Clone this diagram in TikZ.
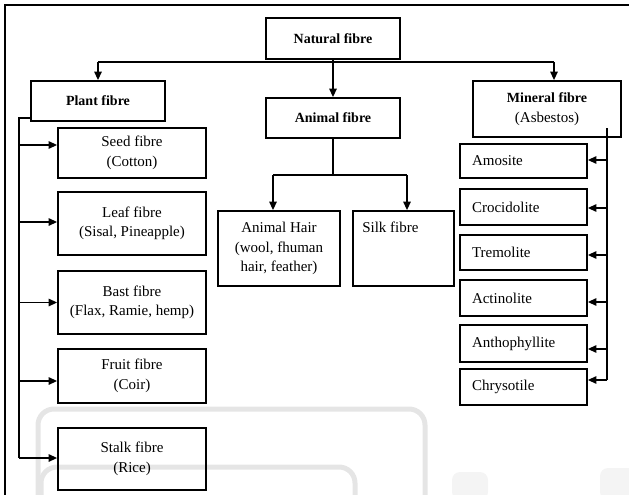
\documentclass[tikz,border=0pt]{standalone}
\usepackage{fontspec}
\setmainfont{Liberation Serif}
\usetikzlibrary{arrows.meta,calc}
\newcommand{\nf}{\fontsize{15}{19.5}\selectfont}
\newcommand{\bfnt}{\fontsize{14}{19.5}\selectfont\bfseries}
\begin{document}
\begin{tikzpicture}[x=1pt,y=-1pt,
  box/.style={draw,line width=1.8pt,inner sep=0pt,align=center,font=\nf},
  bbox/.style={box,font=\bfnt},
  lbox/.style={box,align=left,text width=103pt,inner xsep=12pt,minimum width=127pt},
  conn/.style={line width=1.3pt},
  arr/.style={conn,-{Triangle[length=8.5pt,width=7.5pt]}},
  wm/.style={gray!20,line width=5pt,rounded corners=16pt},
  frame/.style={line width=2pt}]
\useasboundingbox (0,0) rectangle (629,495);
% watermark
\draw[wm] (38,505) -- (38,409) -- (425,409) -- (425,505);
\draw[wm] (41,505) -- (41,467) -- (355,467) -- (355,505);
\fill[gray!9,rounded corners=8pt] (452,472) rectangle (488,500);
\fill[gray!9,rounded corners=8pt] (600,468) rectangle (640,500);
% outer frame
\draw[frame] (5,495) -- (5,5) -- (629,5);
% top level
\node[bbox,minimum width=134pt,minimum height=41pt] (nat) at (333,38.5) {Natural fibre};
\node[bbox,minimum width=134pt,minimum height=40pt] (plant) at (98,101) {Plant fibre};
\node[bbox,minimum width=134pt,minimum height=40pt] (animal) at (333,118) {Animal fibre};
\node[box,minimum width=148pt,minimum height=56pt] (mineral) at (547,109) {{\bfnt Mineral fibre}\\(Asbestos)};
% plant children
\node[box,minimum width=148pt,minimum height=50pt] (seed) at (132,153) {Seed fibre\\(Cotton)};
\node[box,minimum width=148pt,minimum height=63pt] (leaf) at (132,223.5) {Leaf fibre\\(Sisal, Pineapple)};
\node[box,minimum width=148pt,minimum height=63pt] (bast) at (132,302.5) {Bast fibre\\(Flax, Ramie, hemp)};
\node[box,minimum width=148pt,minimum height=54pt] (fruit) at (132,376) {Fruit fibre\\(Coir)};
\node[box,minimum width=148pt,minimum height=62pt] (stalk) at (132,459) {Stalk fibre\\(Rice)};
% animal children
\node[box,minimum width=122pt,minimum height=75pt] (hair) at (279,248.5) {Animal Hair\\(wool, fhuman\\hair, feather)};
\node[box,minimum width=101pt,minimum height=75pt,
  label={[anchor=north west,inner sep=0pt,font=\nf,xshift=10pt,yshift=-12pt]north west:Silk fibre}] (silk) at (403.5,248.5) {};
% mineral children
\node[lbox,minimum height=34pt] (amo) at (523.5,161) {Amosite};
\node[lbox,minimum height=36pt] (cro) at (523.5,207) {Crocidolite};
\node[lbox,minimum height=35pt] (tre) at (523.5,252.5) {Tremolite};
\node[lbox,minimum height=36pt] (act) at (523.5,298) {Actinolite};
\node[lbox,minimum height=37pt] (ant) at (523.5,343.5) {Anthophyllite};
\node[lbox,minimum height=36pt] (chr) at (523.5,387) {Chrysotile};
% connectors from natural fibre
\coordinate (hl) at (98,62);
\coordinate (hr) at (554,62);
\draw[conn] (hl) -- (hr);
\draw[arr] (hl) -- (hl |- plant.north);
\draw[arr] (hr) -- (hr |- mineral.north);
\draw[arr] (nat) -- (animal);
% animal tree
\coordinate (al) at (273,175);
\coordinate (ar) at (407,175);
\draw[conn] (animal.south) -- (333,175);
\draw[conn] (al) -- (ar);
\draw[arr] (al) -- (al |- hair.north);
\draw[arr] (ar) -- (ar |- silk.north);
% plant bus
\coordinate (pb0) at (19,118);
\coordinate (pb1) at (19,458);
\draw[conn,line width=1.8pt] (plant.west |- pb0) -- (pb0) -- (pb1);
\draw[arr] (19,145) -- ([yshift=8pt]seed.west);
\draw[arr] (19,222) -- ([yshift=1.5pt]leaf.west);
\draw[arr] (19,302.5) -- (bast.west);
\draw[arr] (19,381) -- ([yshift=-5pt]fruit.west);
\draw[arr] (pb1) -- ([yshift=1pt]stalk.west);
% mineral bus
\coordinate (mb0) at (607,128);
\coordinate (mb1) at (607,380);
\draw[conn,line width=1.8pt] (mb0) -- (mb1);
\draw[arr] (607,160) -- ([yshift=1pt]amo.east);
\draw[arr] (607,208) -- ([yshift=-1pt]cro.east);
\draw[arr] (607,255) -- ([yshift=-2.5pt]tre.east);
\draw[arr] (607,302) -- ([yshift=-4pt]act.east);
\draw[arr] (607,349) -- ([yshift=-5.5pt]ant.east);
\draw[arr] (mb1) -- ([yshift=7pt]chr.east);
\end{tikzpicture}
\end{document}
